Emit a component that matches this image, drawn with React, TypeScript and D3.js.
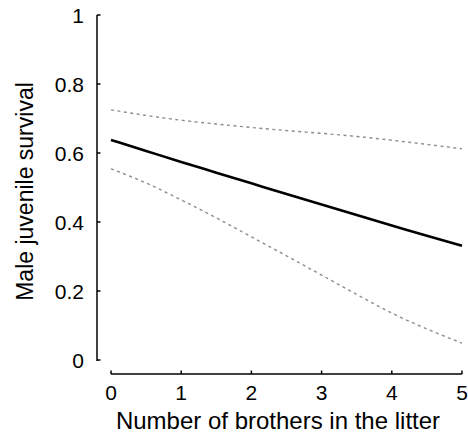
import React from 'react';
import * as d3 from 'd3';

// brothers in litter
const brothers = [0, 0.5, 1, 1.5, 2, 2.5, 3, 3.5, 4, 4.5, 5];
const survivalMean = [0.638, 0.606, 0.574, 0.543, 0.512, 0.481, 0.451, 0.42, 0.39, 0.36, 0.331];
const survivalUpper = [0.725, 0.709, 0.695, 0.684, 0.674, 0.665, 0.657, 0.648, 0.637, 0.625, 0.612];
const survivalLower = [0.554, 0.513, 0.464, 0.412, 0.357, 0.302, 0.246, 0.19, 0.136, 0.09, 0.049];

const xTicks = [0, 1, 2, 3, 4, 5];
const yTicks = [0, 0.2, 0.4, 0.6, 0.8, 1];

const W = 468;
const H = 435;

export default function App() {
  const x = d3.scaleLinear().domain([0, 5]).range([111, 462]);
  const y = d3.scaleLinear().domain([0, 1]).range([360, 15]);

  const line = d3
    .line<number>()
    .x((_, i) => x(brothers[i]))
    .y((d) => y(d))
    .curve(d3.curveMonotoneX);

  const font = 'Arial, "Liberation Sans", sans-serif';
  const axisY = 374;
  const axisX = 97;

  return (
    <svg
      width={W}
      height={H}
      style={{ position: 'absolute', left: 0, top: 0, background: '#fff' }}
      fontFamily={font}
    >
      {/* y axis */}
      <line x1={axisX} x2={axisX} y1={y(1)} y2={y(0) + 1} stroke="#000" strokeWidth={1.5} />
      {yTicks.map((t) => (
        <g key={t}>
          <line x1={axisX} x2={axisX + 3.5} y1={y(t)} y2={y(t)} stroke="#000" strokeWidth={1.5} />
          <text x={84} y={y(t)} dy="0.36em" textAnchor="end" fontSize={21}>
            {d3.format('~g')(t)}
          </text>
        </g>
      ))}

      {/* x axis */}
      <line x1={x(0)} x2={x(5)} y1={axisY} y2={axisY} stroke="#000" strokeWidth={1.5} />
      {xTicks.map((t) => (
        <g key={t}>
          <line x1={x(t)} x2={x(t)} y1={axisY} y2={axisY - 3.5} stroke="#000" strokeWidth={1.5} />
          <text x={x(t)} y={400} textAnchor="middle" fontSize={21}>
            {t}
          </text>
        </g>
      ))}

      {/* labels */}
      <text x={278} y={429} textAnchor="middle" fontSize={24}>
        Number of brothers in the litter
      </text>
      <text
        transform={`translate(33,${191.5}) rotate(-90)`}
        textAnchor="middle"
        fontSize={23}
      >
        Male juvenile survival
      </text>

      {/* confidence band */}
      <path d={line(survivalUpper) ?? ''} fill="none" stroke="#8c8c8c" strokeWidth={1.4} strokeDasharray="3,3.5" />
      <path d={line(survivalLower) ?? ''} fill="none" stroke="#8c8c8c" strokeWidth={1.4} strokeDasharray="3,3.5" />
      {/* fitted survival */}
      <path d={line(survivalMean) ?? ''} fill="none" stroke="#000" strokeWidth={2.6} />
    </svg>
  );
}
